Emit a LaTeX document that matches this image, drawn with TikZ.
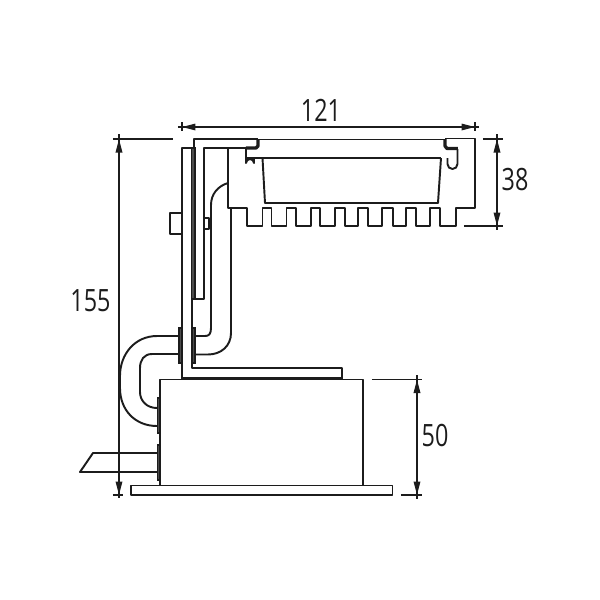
\documentclass[tikz,border=0pt]{standalone}
\usepackage{fontspec}
\setmainfont[FakeStretch=0.76]{Open Sans}
\usetikzlibrary{arrows.meta}
\definecolor{inkline}{HTML}{1C1C1C}
\tikzset{
	part/.style={draw=inkline,line width=1.1pt,line join=round},
	heavy/.style={draw=inkline,line width=1.9pt,line join=round},
	bar/.style={draw=inkline,line width=0.6pt,fill=black!70},
	dimline/.style={draw=inkline,line width=0.95pt},
	dimarrow/.style={draw=inkline,line width=0.95pt,
		{Triangle[length=2.7mm,width=1.3mm]}-{Triangle[length=2.7mm,width=1.3mm]}},
	dimlabel/.style={text=inkline,font=\fontsize{17.5}{19}\selectfont,inner sep=0pt}
}
\begin{document}
\begin{tikzpicture}[x=0.02cm,y=-0.02cm]
		\useasboundingbox (0,0) rectangle (600,600);

		% base plate and box
		\draw[part] (131,485.5) rectangle (392.5,495);
		\draw[part] (160,485.5) -- (160,379.5) -- (363,379.5) -- (363,485.5);
		\draw[bar] (157.5,398) rectangle (160,433);
		\draw[bar] (157.5,445) rectangle (160,480);

		% mounting plate
		\draw[part] (182,378.5) -- (182,148) -- (191,148);
		\draw[part] (192,299) -- (192,368) -- (342,368) -- (342,379);
		\draw[heavy] (182,378.5) -- (342,378.5);
		\draw[part] (170,213) rectangle (182,234);

		% top bracket
		\draw[bar] (191.5,148) rectangle (195,299);
		\draw[part] (194,148) -- (194,139) -- (258,139);
		\draw[part] (195,299) -- (204,299) -- (204,148) -- (246,148);
		\draw[heavy] (258,139) -- (258,146) -- (256,148) -- (246,148);

		% heatsink
		\draw[part] (228,148) -- (228,208) -- (247,208) -- (247,226) -- (262.5,226) -- (262.5,208)
			-- (271.5,208) -- (271.5,226) -- (286.5,226) -- (286.5,208)
			-- (296,208) -- (296,226) -- (311,226) -- (311,208)
			-- (320,208) -- (320,226) -- (335,226) -- (335,208)
			-- (345,208) -- (345,226) -- (358,226) -- (358,208)
			-- (368,208) -- (368,226) -- (382,226) -- (382,208)
			-- (393,208) -- (393,226) -- (406,226) -- (406,208)
			-- (416,208) -- (416,226) -- (430,226) -- (430,208)
			-- (440,208) -- (440,226) -- (456,226) -- (456,208)
			-- (475,208) -- (475,138.5) -- (445,138.5);
		\draw[part] (258,139.5) -- (445,139.5);
		\draw[heavy] (445,139) -- (445,146) -- (447,148.5) -- (458,148.5);
		\draw[part] (246,158) -- (441,158);

		% lamp body
		\draw[part] (262.5,158) -- (265,203) -- (438,203) -- (441,158);

		% hooks
		\draw[part] (246,148) -- (246,163) arc[start angle=180,end angle=360,radius=4] -- (254,158);
		\draw[part] (457.5,149) -- (457.5,164) arc[start angle=0,end angle=180,radius=5] -- (447.5,158);

		% tube on the right
		\draw[part] (228,183) .. controls (218,186) and (211,194) .. (211,205) -- (211,218);
		\draw[part] (211,229) -- (211,328) .. controls (211,334) and (209,336) .. (205,336) -- (195,336);
		\draw[part] (231,208) -- (231,333) .. controls (231,346) and (221,354.5) .. (208,354.5) -- (195,354.5);
		\draw[part] (204.5,218) rectangle (209,229);
		\draw[heavy] (210,218) -- (210,229);

		% tube on the left
		\draw[part] (180,336) -- (157,336) .. controls (135,336) and (120,354) .. (120,376) -- (120,388)
			.. controls (120,410) and (135,426) .. (157,426);
		\draw[part] (180,354) -- (152,354) .. controls (144,354) and (140,360) .. (140,368) -- (140,392)
			.. controls (140,401) and (147,408) .. (157,408);

		% fittings
		\draw[bar] (179,328) rectangle (182,363);
		\draw[bar] (192,328) rectangle (195,363);

		% cable
		\draw[part] (157,453) -- (93,453) -- (80,472) -- (157,472);

		% dimensions
		\coordinate (leftw) at (182,127);
		\coordinate (rightw) at (475,127);
		\coordinate (toph) at (119,139);
		\coordinate (both) at (119,495);
		\coordinate (tops) at (497,139);
		\coordinate (bots) at (497,226);
		\coordinate (topb) at (417,379.5);
		\coordinate (botb) at (417,495);

		\draw[dimline] (178,127) -- (479,127) (182,122) -- (182,131) (475,122) -- (475,131);
		\draw[dimarrow] (leftw) -- (rightw);
		\draw[dimline] (119,134) -- (119,498) (113,139) -- (173,139) (113,495) -- (123,495);
		\draw[dimarrow] (toph) -- (both);
		\draw[dimline] (497,134) -- (497,230) (483,139) -- (503,139) (464,226) -- (503,226);
		\draw[dimarrow] (tops) -- (bots);
		\draw[dimline] (417,375) -- (417,499) (372,379.5) -- (422,379.5) (401,495) -- (422,495);
		\draw[dimarrow] (topb) -- (botb);

		\node[dimlabel] (width) at (321,110) {121};
		\node[dimlabel] (height) at (90.5,301) {155};
		\node[dimlabel] (sink) at (515,180) {38};
		\node[dimlabel] (box) at (435,435) {50};

	\end{tikzpicture}
\end{document}
